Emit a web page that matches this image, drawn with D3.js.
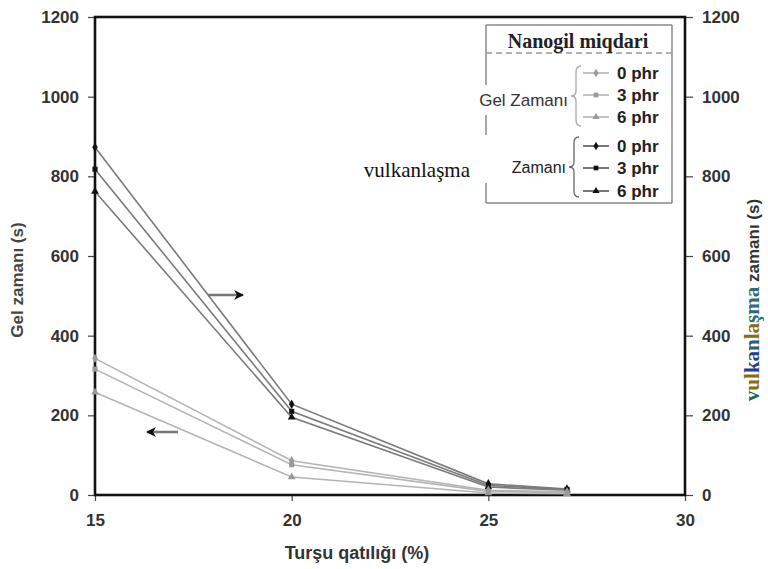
<!DOCTYPE html>
<html>
<head>
<meta charset="utf-8">
<script src="https://cdn.jsdelivr.net/npm/d3@7"></script>
<style>
  html, body { margin: 0; padding: 0; background: #fff; }
  svg { display: block; }
</style>
</head>
<body>
<svg id="chart" width="768" height="569"></svg>
<script>
// ---- Data ----
const acidConc = [15, 20, 25, 27];               // Turşu qatılığı (%)
const vulc0phr = [873, 228, 28, 15];             // vulkanlaşma zamanı, 0 phr
const vulc3phr = [818, 210, 24, 14];             // 3 phr
const vulc6phr = [762, 195, 20, 12];             // 6 phr
const gel0phr  = [343, 86, 12, 8];               // Gel zamanı, 0 phr
const gel3phr  = [316, 76, 9, 6];                // 3 phr
const gel6phr  = [258, 45, 5, 3];                // 6 phr
const xTicks = [15, 20, 25, 30];
const yTicks = [0, 200, 400, 600, 800, 1000, 1200];
const phrLabels = ["0 phr", "3 phr", "6 phr"];

const svg = d3.select("#chart");
const L = 95, R = 685, T = 17, B = 495;
const x = d3.scaleLinear().domain([15, 30]).range([L, R]);
const yL = d3.scaleLinear().domain([0, 1200]).range([B, T]);
const yR = d3.scaleLinear().domain([0, 1200]).range([B, T]);

const tickFont = "bold 17px 'Liberation Sans', Arial, sans-serif";
const fmt = d3.format("d");

// Axes
const axL = svg.append("g").attr("transform", `translate(${L},0)`)
  .call(d3.axisLeft(yL).tickValues(yTicks).tickFormat(fmt).tickSize(7).tickPadding(9));
const axR = svg.append("g").attr("transform", `translate(${R},0)`)
  .call(d3.axisRight(yR).tickValues(yTicks).tickFormat(fmt).tickSize(8).tickPadding(9));
const axB = svg.append("g").attr("transform", `translate(0,${B})`)
  .call(d3.axisBottom(x).tickValues(xTicks).tickFormat(fmt).tickSize(6).tickPadding(13));
[axL, axR, axB].forEach(a => {
  a.select(".domain").remove();
  a.selectAll(".tick line").attr("stroke", "#444").attr("stroke-width", 1.2);
  a.selectAll(".tick text").style("font", tickFont).attr("fill", "#333");
});

// Frame
svg.append("rect").attr("x", L).attr("y", T).attr("width", R - L).attr("height", B - T)
  .attr("fill", "none").attr("stroke", "#111").attr("stroke-width", 2.6);

// Series
const series = [
  {v: vulc0phr, color: "#7a7a7a", mcolor: "#111", sym: d3.symbolDiamond},
  {v: vulc3phr, color: "#7a7a7a", mcolor: "#111", sym: d3.symbolSquare},
  {v: vulc6phr, color: "#7a7a7a", mcolor: "#111", sym: d3.symbolTriangle},
  {v: gel0phr,  color: "#b4b4b4", mcolor: "#999", sym: d3.symbolDiamond},
  {v: gel3phr,  color: "#b4b4b4", mcolor: "#999", sym: d3.symbolSquare},
  {v: gel6phr,  color: "#b4b4b4", mcolor: "#999", sym: d3.symbolTriangle}
];
const line = d3.line().x(d => x(d[0])).y(d => yL(d[1]));
series.forEach(s => {
  const pts = acidConc.map((c, i) => [c, s.v[i]]);
  svg.append("path").attr("d", line(pts)).attr("fill", "none")
    .attr("stroke", s.color).attr("stroke-width", 1.6);
  svg.selectAll(null).data(pts).enter().append("path")
    .attr("d", d3.symbol().type(s.sym).size(26))
    .attr("transform", d => `translate(${x(d[0])},${yL(d[1])})`)
    .attr("fill", s.mcolor);
});

// Arrows
const defs = svg.append("defs");
defs.append("marker").attr("id", "ah").attr("viewBox", "0 0 10 10")
  .attr("refX", 9).attr("refY", 5).attr("markerWidth", 4).attr("markerHeight", 4)
  .attr("orient", "auto-start-reverse")
  .append("path").attr("d", "M0,0 L10,5 L0,10 L3,5 Z").attr("fill", "#111");
svg.append("line").attr("x1", 208).attr("y1", 295).attr("x2", 243).attr("y2", 295)
  .attr("stroke", "#777").attr("stroke-width", 2.5).attr("marker-end", "url(#ah)");
svg.append("line").attr("x1", 178).attr("y1", 432).attr("x2", 147).attr("y2", 432)
  .attr("stroke", "#777").attr("stroke-width", 2.5).attr("marker-end", "url(#ah)");

// Legend
const lg = svg.append("g");
const bx0 = 486, bx1 = 672, by0 = 25, by1 = 203;
lg.append("line").attr("x1", bx0).attr("x2", bx1).attr("y1", by0).attr("y2", by0).attr("stroke", "#888").attr("stroke-width", 1.5);
lg.append("line").attr("x1", bx0).attr("x2", bx1).attr("y1", by1).attr("y2", by1).attr("stroke", "#888").attr("stroke-width", 1.5);
lg.append("line").attr("x1", bx1).attr("x2", bx1).attr("y1", by0).attr("y2", by1).attr("stroke", "#888").attr("stroke-width", 1.5);
[[by0, 85], [115, 135], [183, by1]].forEach(seg => {
  lg.append("line").attr("x1", bx0).attr("x2", bx0).attr("y1", seg[0]).attr("y2", seg[1])
    .attr("stroke", "#888").attr("stroke-width", 1.5);
});
lg.append("line").attr("x1", bx0).attr("x2", bx1).attr("y1", 53).attr("y2", 53)
  .attr("stroke", "#999").attr("stroke-width", 1.5).attr("stroke-dasharray", "6,4");
lg.append("text").attr("x", 578).attr("y", 48).attr("text-anchor", "middle")
  .style("font", "bold 20px 'Liberation Serif', 'Times New Roman', serif").attr("fill", "#222")
  .text("Nanogil miqdari");

lg.append("text").attr("x", 568).attr("y", 106).attr("text-anchor", "end")
  .style("font", "17px 'Liberation Sans', Arial, sans-serif").attr("fill", "#333")
  .text("Gel Zamanı");
lg.append("text").attr("x", 470).attr("y", 177).attr("text-anchor", "end")
  .style("font", "21px 'Liberation Serif', 'Times New Roman', serif").attr("fill", "#111")
  .text("vulkanlaşma");
lg.append("text").attr("x", 566).attr("y", 173).attr("text-anchor", "end")
  .style("font", "16px 'Liberation Sans', Arial, sans-serif").attr("fill", "#222")
  .text("Zamanı");

// braces
function brace(xp, y0, y1, color) {
  const ym = (y0 + y1) / 2, w = 5;
  const p = `M${xp + w},${y0} Q${xp},${y0} ${xp},${y0 + 6} L${xp},${ym - 5} Q${xp},${ym} ${xp - w},${ym}` +
            ` Q${xp},${ym} ${xp},${ym + 5} L${xp},${y1 - 6} Q${xp},${y1} ${xp + w},${y1}`;
  lg.append("path").attr("d", p).attr("fill", "none").attr("stroke", color).attr("stroke-width", 1.3);
}
brace(576, 66, 126, "#aaa");
brace(574, 137, 197, "#666");

const gelY = [73, 95, 117], vulY = [146, 168, 191];
const gelSyms = [d3.symbolDiamond, d3.symbolSquare, d3.symbolTriangle];
phrLabels.forEach((lab, i) => {
  [[gelY[i], "#b4b4b4", "#999"], [vulY[i], "#555", "#111"]].forEach(([yy, lc, mc]) => {
    lg.append("line").attr("x1", 583).attr("x2", 609).attr("y1", yy).attr("y2", yy)
      .attr("stroke", lc).attr("stroke-width", 1.6);
    lg.append("path").attr("d", d3.symbol().type(gelSyms[i]).size(22)())
      .attr("transform", `translate(596,${yy})`).attr("fill", mc);
    lg.append("text").attr("x", 617).attr("y", yy + 6)
      .style("font", "bold 17px 'Liberation Sans', Arial, sans-serif").attr("fill", "#222")
      .text(lab);
  });
});

// Axis titles
svg.append("text").attr("x", 357).attr("y", 559).attr("text-anchor", "middle")
  .style("font", "bold 18px 'Liberation Sans', Arial, sans-serif").attr("fill", "#333")
  .text("Turşu qatılığı (%)");
svg.append("text").attr("transform", "translate(23,280) rotate(-90)").attr("text-anchor", "middle")
  .style("font", "bold 17px 'Liberation Sans', Arial, sans-serif").attr("fill", "#444")
  .text("Gel zamanı (s)");

const rt = svg.append("text").attr("transform", "translate(759,300) rotate(-90)").attr("text-anchor", "middle");
const parts = [["v", "#0d6b70"], ["ul", "#8a6a12"], ["ka", "#1e3f8c"], ["n", "#2a6070"], ["la", "#8a6a12"], ["şma", "#2b6a78"]];
parts.forEach(([t, c]) => rt.append("tspan").text(t).attr("fill", c)
  .style("font", "bold 21px 'Liberation Serif', 'Times New Roman', serif"));
rt.append("tspan").text("   zamanı (s)").attr("fill", "#333")
  .style("font", "bold 17px 'Liberation Sans', Arial, sans-serif");
</script>
</body>
</html>
